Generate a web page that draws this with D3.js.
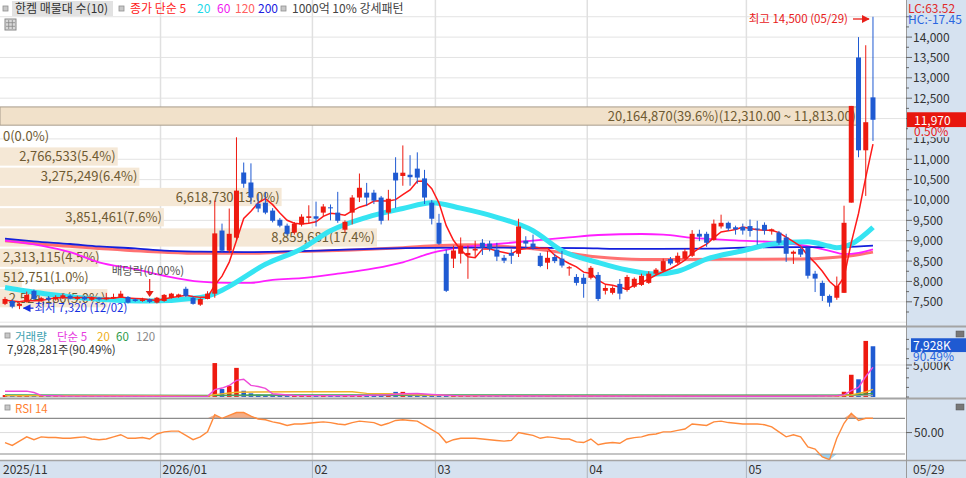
<!DOCTYPE html>
<html>

<head>
  <meta charset="utf-8">
  <title>한켐 매물대</title>
  <script src="https://cdn.jsdelivr.net/npm/d3@7/dist/d3.min.js"></script>
  <style>
    body { margin: 0; background: #fff; }
    svg text { font-family: "Noto Sans CJK KR", "Noto Sans", sans-serif; }
  </style>
</head>

<body>
  <svg width="966" height="478" id="mainsvg"></svg>
  <script>
    // ---- data ----
    const dates = ['2025/11/28',
      '2025/12/01', '2025/12/02', '2025/12/03', '2025/12/04', '2025/12/05', '2025/12/08', '2025/12/09', '2025/12/10', '2025/12/11', '2025/12/12',
      '2025/12/15', '2025/12/16', '2025/12/17', '2025/12/18', '2025/12/19', '2025/12/22', '2025/12/23', '2025/12/24', '2025/12/26', '2025/12/29', '2025/12/30',
      '2026/01/02', '2026/01/05', '2026/01/06', '2026/01/07', '2026/01/08', '2026/01/09', '2026/01/12', '2026/01/13', '2026/01/14', '2026/01/15', '2026/01/16',
      '2026/01/19', '2026/01/20', '2026/01/21', '2026/01/22', '2026/01/23', '2026/01/26', '2026/01/27', '2026/01/28', '2026/01/29', '2026/01/30',
      '2026/02/02', '2026/02/03', '2026/02/04', '2026/02/05', '2026/02/06', '2026/02/09', '2026/02/10', '2026/02/11', '2026/02/12', '2026/02/13',
      '2026/02/19', '2026/02/20', '2026/02/23', '2026/02/24', '2026/02/25', '2026/02/26', '2026/02/27',
      '2026/03/03', '2026/03/04', '2026/03/05', '2026/03/06', '2026/03/09', '2026/03/10', '2026/03/11', '2026/03/12', '2026/03/13', '2026/03/16',
      '2026/03/17', '2026/03/18', '2026/03/19', '2026/03/20', '2026/03/23', '2026/03/24', '2026/03/25', '2026/03/26', '2026/03/27', '2026/03/30', '2026/03/31',
      '2026/04/01', '2026/04/02', '2026/04/03', '2026/04/06', '2026/04/07', '2026/04/08', '2026/04/09', '2026/04/10', '2026/04/13', '2026/04/14', '2026/04/15',
      '2026/04/16', '2026/04/17', '2026/04/20', '2026/04/21', '2026/04/22', '2026/04/23', '2026/04/24', '2026/04/27', '2026/04/28', '2026/04/29', '2026/04/30',
      '2026/05/04', '2026/05/06', '2026/05/07', '2026/05/08', '2026/05/11', '2026/05/12', '2026/05/13', '2026/05/14', '2026/05/15',
      '2026/05/18', '2026/05/19', '2026/05/20', '2026/05/21', '2026/05/22', '2026/05/26', '2026/05/27', '2026/05/28', '2026/05/29'];

    const open = [7450, 7520, 7400, 7500, 7770, 7540, 7600, 7560, 7600, 7650,
      7570, 7620, 7550, 7600, 7560, 7590, 7620, 7620, 7560, 7520,
      7560, 7480, 7520, 7600, 7630, 7820, 7600, 7430, 7570, 7700,
      9250, 8755, 9075, 10675, 10430, 9910, 9935, 9740, 9515, 9370,
      9200, 9400, 9560, 9600, 9690, 9820, 9690, 9270, 9690, 10060,
      10180, 10180, 10060, 9690, 10670, 10590, 10620, 10770, 10530, 9935,
      9440, 8680, 8560, 8680, 8640, 8760, 8950, 8930, 8780, 8580,
      8700, 8680, 9000, 8930, 8630, 8460, 8600, 8560, 8320, 8110,
      8090, 8090, 8160, 7770, 7720, 7940, 7790, 7870, 7915, 7965,
      8190, 8260, 8550, 8460, 8560, 8630, 9170, 9170, 9020, 9350,
      9440, 9330, 9340, 9360, 9300, 9390, 9230, 9200, 9080, 8680,
      8800, 8830, 8190, 7965, 7645, 7600, 7720, 9935, 13500, 11220,
      12520];
    const high = [7620, 7560, 7480, 7750, 7800, 7620, 7640, 7660, 7700, 7680,
      7650, 7640, 7630, 7620, 7720, 7700, 7770, 7640, 7590, 7600,
      7580, 7620, 7690, 7720, 7700, 7870, 7640, 7590, 7760, 9985,
      9420, 9790, 11540, 10920, 10900, 10150, 10200, 9800, 9560, 9420,
      9460, 9650, 9870, 9960, 9900, 9890, 10200, 9500, 10120, 10650,
      10420, 10250, 10100, 10250, 11050, 11340, 11100, 11170, 10740, 10000,
      9660, 8780, 8880, 9080, 8880, 9000, 9040, 9000, 8950, 8650,
      8790, 9540, 9110, 9150, 8700, 8750, 8680, 8750, 8380, 8180,
      8190, 8380, 8230, 7910, 7880, 8060, 8160, 8100, 8190, 8250,
      8330, 8560, 8600, 8710, 8800, 9260, 9270, 9220, 9520, 9640,
      9470, 9370, 9420, 9520, 9490, 9450, 9300, 9240, 9170, 8760,
      8860, 8830, 8260, 8020, 7680, 8120, 9860, 12310, 14000, 13800,
      14500];
    const low = [7420, 7340, 7320, 7480, 7540, 7500, 7520, 7530, 7570, 7560,
      7540, 7540, 7520, 7530, 7540, 7570, 7600, 7460, 7500, 7500,
      7470, 7460, 7500, 7580, 7600, 7620, 7430, 7400, 7560, 7600,
      8700, 8700, 9000, 10300, 9900, 9700, 9650, 9450, 9330, 9130,
      9150, 9350, 9430, 9350, 9600, 9500, 9440, 9200, 9400, 9950,
      9850, 9900, 9400, 9500, 9800, 10350, 10350, 10400, 9900, 9400,
      8900, 7740, 8330, 8440, 8065, 8600, 8650, 8740, 8500, 8450,
      8430, 8600, 8800, 8780, 8350, 8300, 8450, 8340, 8140, 7900,
      7600, 8050, 7520, 7680, 7680, 7560, 7750, 7840, 7890, 7940,
      8150, 8230, 8400, 8430, 8530, 8600, 8990, 8850, 9000, 9300,
      9240, 9150, 9150, 9100, 8900, 9150, 9150, 8900, 8480, 8430,
      8600, 8070, 7740, 7520, 7380, 7550, 7720, 9935, 11050, 10100,
      11450];
    const close = [7570, 7380, 7450, 7670, 7570, 7590, 7550, 7620, 7660, 7580,
      7620, 7560, 7600, 7560, 7600, 7620, 7700, 7480, 7520, 7560,
      7500, 7600, 7670, 7700, 7680, 7645, 7450, 7570, 7700, 9180,
      8755, 9170, 10230, 10400, 10060, 9790, 9690, 9490, 9370, 9170,
      9420, 9590, 9600, 9540, 9840, 9800, 9490, 9465, 10060, 10300,
      10060, 9985, 9490, 10030, 10480, 10670, 10560, 10550, 10060, 9540,
      8925, 7770, 8760, 8880, 8700, 8800, 8830, 8800, 8610, 8510,
      8630, 9350, 8930, 8830, 8380, 8580, 8500, 8390, 8350, 7965,
      7940, 8335, 7570, 7840, 7840, 7700, 8110, 8065, 8140, 8190,
      8290, 8500, 8440, 8630, 8740, 9170, 9100, 8950, 9420, 9440,
      9300, 9280, 9250, 9240, 9270, 9250, 9280, 8950, 8680, 8730,
      8660, 8140, 8070, 7645, 7480, 7890, 9440, 12310, 11220, 11910,
      11970];
    const volume = [300000, 250000, 320000, 180000, 150000,
      60000, 50000, 70000, 80000, 50000, 60000, 40000, 50000, 45000, 70000,
      60000, 90000, 80000, 50000, 60000, 120000, 70000, 90000, 80000, 60000,
      110000, 100000, 80000, 250000, 5300000,
      1240000, 1750000, 4550000, 980000, 570000, 350000, 300000, 250000, 220000, 250000,
      200000, 150000, 180000, 160000, 200000, 140000, 180000, 150000, 300000, 320000,
      200000, 180000, 250000, 300000, 800000, 800000, 350000, 300000, 300000, 220000,
      250000, 300000, 180000, 150000, 160000, 120000, 110000, 100000, 120000, 90000,
      100000, 220000, 130000, 110000, 150000, 100000, 90000, 110000, 80000, 120000,
      140000, 110000, 200000, 120000, 90000, 110000, 100000, 90000, 95000, 100000,
      90000, 110000, 80000, 100000, 110000, 230000, 150000, 130000, 200000, 150000,
      120000, 100000, 90000, 100000, 110000, 90000, 80000, 120000, 180000, 100000,
      90000, 220000, 160000, 200000, 230000, 250000, 820000, 3475089, 2766533, 8761500,
      7928281];

    // moving averages of close (5 day per candle, others sampled as [index, value])
    const ma5 = [7540, 7520, 7500, 7530, 7528, 7532, 7566, 7600, 7598, 7600,
      7606, 7608, 7604, 7584, 7588, 7588, 7616, 7592, 7584, 7576,
      7552, 7532, 7570, 7606, 7630, 7659, 7629, 7609, 7609, 7909,
      8131, 8475, 9007, 9547, 9723, 9930, 10034, 9886, 9680, 9502,
      9428, 9408, 9430, 9464, 9598, 9674, 9654, 9627, 9731, 9823,
      9875, 9974, 9979, 9973, 10009, 10131, 10246, 10458, 10464, 10276,
      9927, 9369, 9011, 8775, 8607, 8582, 8794, 8802, 8748, 8710,
      8676, 8780, 8806, 8850, 8824, 8814, 8644, 8536, 8440, 8357,
      8229, 8196, 8032, 7930, 7905, 7857, 7812, 7911, 7971, 8061,
      8159, 8237, 8312, 8410, 8520, 8696, 8816, 8918, 9076, 9216,
      9242, 9278, 9338, 9302, 9268, 9258, 9258, 9198, 9086, 8978,
      8860, 8632, 8456, 8249, 7999, 7845, 8105, 8953, 9668, 10554,
      11370];
    const ma20 = [[0, 7850], [6, 7685], [13, 7565], [20, 7520], [27, 7605], [29, 7700], [31, 7880], [36, 8420],
      [41, 8800], [45, 9245], [50, 9575], [55, 9790], [59, 9935], [63, 9800], [68, 9575], [73, 9245], [77, 8755],
      [82, 8465], [86, 8280], [90, 8180], [93, 8250], [97, 8550], [102, 8755], [106, 8920], [111, 8975],
      [114, 8865], [115, 8830], [117, 8920], [120, 9330]];
    const ma60 = [[0, 9000], [5, 8880], [9, 8720], [13, 8470], [18, 8300], [22, 8140], [27, 7995], [31, 7965],
      [34, 7965], [37, 8040], [41, 8080], [46, 8190], [51, 8320], [55, 8470], [59, 8700], [63, 8835], [68, 8920],
      [73, 9000], [78, 9080], [82, 9140], [88, 9165], [91, 9150], [95, 9070], [101, 9010], [108, 8940],
      [111, 8870], [114, 8750], [116, 8670], [118, 8700], [120, 8790]];
    const ma120 = [[0, 9000], [6, 8900], [13, 8810], [22, 8715], [27, 8690], [33, 8690], [40, 8730], [48, 8770],
      [55, 8830], [60, 8880], [64, 8900], [68, 8870], [73, 8800], [78, 8690], [82, 8600], [88, 8540], [100, 8545],
      [110, 8550], [114, 8580], [117, 8630], [120, 8720]];
    const ma200 = [[0, 9050], [4, 8985], [9, 8920], [13, 8860], [18, 8810], [22, 8755], [27, 8730], [33, 8720],
      [41, 8745], [55, 8820], [63, 8830], [80, 8820], [84, 8800], [98, 8805], [104, 8840], [116, 8845], [120, 8880]];

    // volume moving averages, sampled as [index, shares]
    const vma5 = [[0, 900000], [3, 920000], [4, 700000], [5, 250000], [8, 150000], [28, 100000], [29, 1150000],
      [30, 1400000], [31, 1800000], [32, 2600000], [33, 2760000], [34, 1820000], [35, 1640000], [36, 1350000],
      [37, 500000], [40, 230000], [48, 200000], [53, 350000], [55, 500000], [57, 550000], [59, 400000],
      [61, 270000], [63, 170000], [110, 120000], [115, 200000], [116, 330000], [117, 1000000], [118, 1500000],
      [119, 3200000], [120, 4650000]];
    const vma20 = [[0, 220000], [20, 200000], [28, 120000], [29, 380000], [32, 750000], [40, 820000], [48, 820000],
      [50, 570000], [53, 500000], [57, 350000], [62, 220000], [70, 180000], [100, 130000], [115, 150000],
      [117, 330000], [119, 780000], [120, 1180000]];
    const vma60 = [[0, 320000], [28, 260000], [32, 300000], [60, 320000], [100, 300000], [115, 290000],
      [118, 380000], [120, 560000]];
    const vma120 = [[0, 200000], [120, 230000]];

    const rsi = [36, 32, 38, 44, 40, 44, 43, 43, 42, 42,
      43, 44, 41, 40, 41, 44, 47, 42, 42, 43,
      41, 48, 51, 52, 52, 46, 40, 44, 51, 75,
      70, 74, 78, 78, 73, 69, 68, 65, 63, 60,
      62, 62, 63, 64, 65, 64, 62, 61, 64, 66,
      65, 64, 60, 63, 67, 68, 67, 66, 60, 54,
      48, 36, 40, 42, 42, 42, 41, 40, 39, 38,
      39, 50, 48, 46, 42, 44, 43, 41, 41, 37,
      36, 41, 33, 35, 36, 35, 41, 43, 44, 47,
      48, 51, 51, 53, 55, 62, 61, 60, 65, 66,
      64, 63, 62, 62, 62, 61, 58, 51, 44, 47,
      44, 30, 27, 16, 12, 42, 63, 77, 67, 70,
      70];

    // volume profile (매물대), 10 price bands from bottom to top
    const profileEdges = [7340, 7837, 8334, 8831, 9328, 9825, 10322, 10819, 11316, 11813, 12310];
    const profileVolumes = [2524180, 512751, 2313115, 8859681, 3851461, 6618730, 3275249, 2766533, 0, 20164870];

    // 12,000 sits under the last-price box, so it is not written
    const priceTicks = [7500, 8000, 8500, 9000, 9500, 10000, 10500, 11000, 11500, 12500, 13000, 13500, 14000];
    const monthIdx = [0, 22, 43, 60, 81, 103];
    const monthLabels = ['2025/11', '2026/01', '02', '03', '04', '05'];

    // ---- layout ----
    const svg = d3.select('#mainsvg');
    const width = +svg.attr('width');
    const height = +svg.attr('height');
    const plotRight = 906;
    const main = { top: 0, bottom: 326 };
    const vol = { top: 328, bottom: 398 };
    const rs = { top: 400, bottom: 460 };
    const axisBg = '#d6e2f0';
    const upColor = '#ee1a10', downColor = '#1f5ad2';

    const x = d3.scaleBand().domain(dates).range([1.4, 1.4 + dates.length * 7.233]);
    const cx = i => x(dates[i]) + x.bandwidth() / 2;
    const y = d3.scaleLinear().domain([6906, 14911]).range([main.bottom, main.top]);
    const yVol = d3.scaleLinear().domain([0, 10.78e6]).range([397, 328]);
    const yRsi = d3.scaleLinear().domain([11.6, 95.6]).range([rs.bottom, rs.top]);
    const xProf = d3.scaleLinear().domain([0, d3.max(profileVolumes)]).range([0, 858]);
    const fmt = d3.format(',');

    svg.append('rect').attr('width', width).attr('height', height).attr('fill', '#fff');

    // axis bands
    svg.append('rect').attr('x', plotRight).attr('y', 0).attr('width', width - plotRight).attr('height', height).attr('fill', axisBg);
    svg.append('rect').attr('x', 0).attr('y', 461).attr('width', width).attr('height', height - 461).attr('fill', axisBg);

    // clip paths
    const defs = svg.append('defs');
    [['clipMain', main], ['clipVol', vol], ['clipRsi', rs]].forEach(([id, p]) => {
      defs.append('clipPath').attr('id', id).append('rect')
        .attr('x', 0).attr('y', p.top).attr('width', plotRight).attr('height', p.bottom - p.top);
    });

    // horizontal grid (price)
    const grid = svg.append('g');
    grid.selectAll('line.hg').data(d3.range(7000, 14501, 500)).enter().append('line')
      .attr('x1', 0).attr('x2', plotRight).attr('y1', d => y(d)).attr('y2', d => y(d))
      .attr('stroke', '#e3e3e3').attr('stroke-width', 1);
    grid.append('line').attr('x1', 0).attr('x2', plotRight).attr('y1', yVol(5e6)).attr('y2', yVol(5e6))
      .attr('stroke', '#e3e3e3');
    grid.append('line').attr('x1', 0).attr('x2', plotRight).attr('y1', yRsi(50)).attr('y2', yRsi(50))
      .attr('stroke', '#dcdcdc');

    // vertical month grid
    grid.selectAll('line.vg').data(monthIdx.slice(1)).enter().append('line')
      .attr('x1', d => x(dates[d])).attr('x2', d => x(dates[d]))
      .attr('y1', 0).attr('y2', 478)
      .attr('stroke', '#e0e0e0').attr('stroke-width', 1.5);

    // ---- volume profile ----
    const prof = svg.append('g').attr('clip-path', 'url(#clipMain)');
    const total = d3.sum(profileVolumes);
    const maxIdx = profileVolumes.indexOf(d3.max(profileVolumes));
    const bands = profileVolumes.map((v, k) => ({ v, k, lo: profileEdges[k], hi: profileEdges[k + 1] }));
    prof.selectAll('rect').data(bands).enter().append('rect')
      .attr('x', 0)
      .attr('y', d => y(d.hi) + 1)
      .attr('width', d => xProf(d.v))
      .attr('height', d => y(d.lo) - y(d.hi) - 2)
      .attr('fill', d => d.k === maxIdx ? '#f1e1ca' : '#f5e8d6')
      .attr('stroke', d => d.k === maxIdx ? '#a89c8c' : 'none');
    prof.selectAll('text').data(bands).enter().append('text')
      .attr('y', d => (y(d.lo) + y(d.hi)) / 2 + 4.5)
      .attr('font-size', 13)
      .attr('fill', '#6e5a32')
      .text(d => {
        let s = `${fmt(d.v)}(${(d.v / total * 100).toFixed(1)}%)`;
        if (d.k === maxIdx) s += `(${d3.format(',.2f')(d.hi)} ~ ${d3.format(',.2f')(d.lo)})`;
        return s;
      })
      .each(function (d) {
        const w = this.getComputedTextLength();
        const end = xProf(d.v) - 2;
        if (end - w < 3) d3.select(this).attr('x', 3);
        else d3.select(this).attr('x', end - w);
      });

    // ---- moving averages ----
    const maG = svg.append('g').attr('clip-path', 'url(#clipMain)');
    const smooth = d3.line().x(d => cx(d[0])).y(d => y(d[1])).curve(d3.curveMonotoneX);
    maG.append('path').attr('d', smooth(ma120)).attr('fill', 'none').attr('stroke', '#ff6262').attr('stroke-width', 3).attr('opacity', 0.9);
    maG.append('path').attr('d', smooth(ma60)).attr('fill', 'none').attr('stroke', '#ff1eff').attr('stroke-width', 1.8);
    maG.append('path').attr('d', smooth(ma200)).attr('fill', 'none').attr('stroke', '#1420dc').attr('stroke-width', 1.8);
    maG.append('path').attr('d', smooth(ma20)).attr('fill', 'none').attr('stroke', '#35e4f2').attr('stroke-width', 5);
    maG.append('path')
      .attr('d', d3.line().x((d, i) => cx(i)).y(d => y(d))(ma5))
      .attr('fill', 'none').attr('stroke', '#ff1a1a').attr('stroke-width', 1.5);

    // ---- candles ----
    const cg = svg.append('g').attr('clip-path', 'url(#clipMain)');
    const candles = dates.map((d, i) => ({ i, o: open[i], h: high[i], l: low[i], c: close[i] }));
    const col = d => d.c >= d.o ? upColor : downColor;
    cg.selectAll('line').data(candles).enter().append('line')
      .attr('x1', d => cx(d.i)).attr('x2', d => cx(d.i))
      .attr('y1', d => y(d.h)).attr('y2', d => y(d.l))
      .attr('stroke', col).attr('stroke-width', 1);
    cg.selectAll('rect').data(candles).enter().append('rect')
      .attr('x', d => cx(d.i) - 2.5).attr('width', 5)
      .attr('y', d => y(Math.max(d.o, d.c)))
      .attr('height', d => Math.max(1, Math.abs(y(d.o) - y(d.c))))
      .attr('fill', col);

    // ---- annotations ----
    const hiIdx = high.indexOf(d3.max(high));
    const loIdx = low.indexOf(d3.min(low));
    const ann = svg.append('g');
    defs.append('marker').attr('id', 'arrR').attr('viewBox', '0 0 10 10').attr('refX', 9).attr('refY', 5)
      .attr('markerWidth', 6).attr('markerHeight', 6).attr('orient', 'auto')
      .append('path').attr('d', 'M0,0L10,5L0,10z').attr('fill', '#e8201a');
    defs.append('marker').attr('id', 'arrB').attr('viewBox', '0 0 10 10').attr('refX', 9).attr('refY', 5)
      .attr('markerWidth', 6).attr('markerHeight', 6).attr('orient', 'auto')
      .append('path').attr('d', 'M0,0L10,5L0,10z').attr('fill', '#1530e0');
    ann.append('text').attr('x', cx(hiIdx) - 5 - 16 - 4).attr('y', 23).attr('text-anchor', 'end')
      .attr('font-size', 11.5).attr('fill', '#e8201a')
      .text(`최고 ${fmt(high[hiIdx])} (${dates[hiIdx].slice(5)})`);
    ann.append('line').attr('x1', cx(hiIdx) - 20).attr('x2', cx(hiIdx) - 4).attr('y1', 19).attr('y2', 19)
      .attr('stroke', '#e8201a').attr('stroke-width', 1.3).attr('marker-end', 'url(#arrR)');
    ann.append('line').attr('x1', cx(loIdx) + 14).attr('x2', cx(loIdx) + 4).attr('y1', y(low[loIdx]) - 1).attr('y2', y(low[loIdx]) - 1)
      .attr('stroke', '#1530e0').attr('stroke-width', 1.3).attr('marker-end', 'url(#arrB)');
    ann.append('text').attr('x', cx(loIdx) + 15).attr('y', y(low[loIdx]) + 3)
      .attr('font-size', 11.5).attr('fill', '#1530e0')
      .text(`최저 ${fmt(low[loIdx])} (${dates[loIdx].slice(5)})`);
    const divIdx = dates.indexOf('2025/12/29');
    ann.append('text').attr('x', cx(divIdx) - 38).attr('y', 275)
      .attr('font-size', 11.5).attr('fill', '#555').text('배당락(0.00%)');
    ann.append('line').attr('x1', cx(divIdx)).attr('x2', cx(divIdx)).attr('y1', 279).attr('y2', 292)
      .attr('stroke', '#e8201a').attr('stroke-width', 1.2);
    ann.append('path').attr('d', `M${cx(divIdx) - 4},${291}L${cx(divIdx) + 4},${291}L${cx(divIdx)},${297}Z`).attr('fill', '#e8201a');

    // ---- volume panel ----
    const vg = svg.append('g').attr('clip-path', 'url(#clipVol)');
    vg.selectAll('rect').data(candles).enter().append('rect')
      .attr('x', d => cx(d.i) - 2.3).attr('width', 4.6)
      .attr('y', d => Math.min(yVol(volume[d.i]), 395.5))
      .attr('height', d => Math.max(1.5, yVol(0) - yVol(volume[d.i])))
      .attr('fill', col);
    const vline = d3.line().x(d => cx(d[0])).y(d => yVol(d[1]));
    [[vma120, '#a0a0a0'], [vma60, '#35a050'], [vma20, '#f0b428'], [vma5, '#ee4ad8']].forEach(([pts, c]) => {
      vg.append('path').attr('d', vline(pts)).attr('fill', 'none').attr('stroke', c).attr('stroke-width', 1.4);
    });

    // ---- RSI panel ----
    const rg = svg.append('g').attr('clip-path', 'url(#clipRsi)');
    rg.append('path')
      .attr('d', d3.area().x((d, i) => cx(i)).y0(yRsi(70)).y1(d => yRsi(Math.max(d, 70)))(rsi))
      .attr('fill', '#f4ad86');
    rg.append('path')
      .attr('d', d3.area().x((d, i) => cx(i)).y0(yRsi(20)).y1(d => yRsi(Math.min(d, 20)))(rsi))
      .attr('fill', '#9fd4f2');
    [70, 20].forEach(v => {
      rg.append('line').attr('x1', 0).attr('x2', 905).attr('y1', yRsi(v)).attr('y2', yRsi(v))
        .attr('stroke', '#8c8c8c').attr('stroke-width', 1.2);
    });
    rg.append('path').attr('d', d3.line().x((d, i) => cx(i)).y(d => yRsi(d))(rsi))
      .attr('fill', 'none').attr('stroke', '#ff8a3c').attr('stroke-width', 1.4);

    // panel borders
    [[326.5, 2], [398.5, 2], [460.5, 1.5]].forEach(([yy, w]) => {
      svg.append('line').attr('x1', 0).attr('x2', width).attr('y1', yy).attr('y2', yy)
        .attr('stroke', '#a4a4a4').attr('stroke-width', w);
    });
    svg.append('line').attr('x1', plotRight + 0.5).attr('x2', plotRight + 0.5).attr('y1', 0).attr('y2', height)
      .attr('stroke', '#9a9a9a');

    // ---- right price axis ----
    const ax = svg.append('g');
    ax.selectAll('line.mt').data(d3.range(7250, 14501, 250)).enter().append('line')
      .attr('x1', plotRight).attr('x2', d => plotRight + (d % 500 === 0 ? 6 : 3))
      .attr('y1', d => y(d)).attr('y2', d => y(d)).attr('stroke', '#666');
    ax.selectAll('text.pt').data(priceTicks).enter().append('text')
      .attr('x', 913).attr('y', d => y(d) + 4.5).attr('font-size', 12).attr('fill', '#333')
      .text(d => fmt(d));
    ax.append('text').attr('x', 908).attr('y', 12.5).attr('font-size', 12).attr('fill', '#e02a2a').text('LC:63.52');
    ax.append('text').attr('x', 908).attr('y', 24).attr('font-size', 12).attr('fill', '#2a66e0').text('HC:-17.45');
    const last = close[close.length - 1];
    ax.append('rect').attr('x', plotRight + 1).attr('y', y(last) - 7.5).attr('width', width - plotRight).attr('height', 15)
      .attr('fill', '#e8160e');
    ax.append('text').attr('x', 914).attr('y', y(last) + 5).attr('font-size', 12).attr('fill', '#fff').text(fmt(last));
    ax.append('rect').attr('x', plotRight + 2).attr('y', y(last) + 7.5).attr('width', 58).attr('height', 10).attr('fill', axisBg);
    ax.append('text').attr('x', 914).attr('y', y(last) + 16).attr('font-size', 12).attr('fill', '#e8201a')
      .text(`${((last - close[close.length - 2]) / close[close.length - 2] * 100).toFixed(2)}%`);

    // volume axis
    ax.selectAll('line.vt').data(d3.range(0, 10e6, 1.5e6)).enter().append('line')
      .attr('x1', plotRight).attr('x2', plotRight + 3).attr('y1', d => yVol(d)).attr('y2', d => yVol(d)).attr('stroke', '#666');
    ax.append('line').attr('x1', plotRight).attr('x2', plotRight + 6).attr('y1', yVol(5e6)).attr('y2', yVol(5e6)).attr('stroke', '#666');
    ax.append('text').attr('x', 913).attr('y', yVol(5e6) + 5).attr('font-size', 12).attr('fill', '#333').text('5,000K');
    const lastVol = volume[volume.length - 1];
    ax.append('rect').attr('x', 911).attr('y', yVol(lastVol) - 8).attr('width', 55).attr('height', 14).attr('fill', '#1f5ad2');
    ax.append('text').attr('x', 913).attr('y', yVol(lastVol) + 4).attr('font-size', 12).attr('fill', '#fff')
      .text(`${fmt(Math.round(lastVol / 1000))}K`);
    const volRatio = (lastVol / volume[volume.length - 2] * 100).toFixed(2);
    ax.append('rect').attr('x', 911).attr('y', yVol(lastVol) + 6).attr('width', 55).attr('height', 10).attr('fill', axisBg);
    ax.append('text').attr('x', 913).attr('y', yVol(lastVol) + 15).attr('font-size', 12).attr('fill', '#2a66e0').text(`${volRatio}%`);

    // RSI axis
    ax.append('line').attr('x1', plotRight).attr('x2', plotRight + 6).attr('y1', yRsi(50)).attr('y2', yRsi(50)).attr('stroke', '#666');
    ax.append('text').attr('x', 914).attr('y', yRsi(50) + 4.5).attr('font-size', 12).attr('fill', '#333').text('50.00');

    // small panel icons
    [331, 404].forEach(yy => {
      ax.append('rect').attr('x', 956).attr('y', yy).attr('width', 8).attr('height', 6)
        .attr('fill', '#777').attr('stroke', '#555').attr('stroke-width', 0.5);
    });

    // ---- bottom date axis ----
    const bx = svg.append('g');
    bx.selectAll('line').data(monthIdx.slice(1)).enter().append('line')
      .attr('x1', d => x(dates[d])).attr('x2', d => x(dates[d])).attr('y1', 461).attr('y2', 478)
      .attr('stroke', '#a8b4c4');
    bx.selectAll('text').data(monthIdx).enter().append('text')
      .attr('x', (d, k) => k === 0 ? 3 : x(dates[d]) + 2).attr('y', 474)
      .attr('font-size', 12).attr('fill', '#333')
      .text((d, k) => monthLabels[k]);
    bx.append('text').attr('x', 913).attr('y', 474).attr('font-size', 12).attr('fill', '#333')
      .text(dates[dates.length - 1].slice(5));

    // ---- legends ----
    const lg = svg.append('g').attr('font-size', 12);
    const marker = (g, xx, yy) => g.append('rect').attr('x', xx).attr('y', yy).attr('width', 5).attr('height', 5)
      .attr('fill', '#c8c8c8').attr('stroke', '#909090').attr('stroke-width', 0.8);
    marker(lg, 3, 6);
    lg.append('rect').attr('x', 12).attr('y', 1).attr('width', 101).attr('height', 15).attr('fill', '#e2e2e2');
    lg.append('text').attr('x', 15).attr('y', 13).attr('fill', '#333').text('한켐 매물대 수(10)');
    marker(lg, 119, 6);
    const maLegend = [['종가 단순 5', '#ff2020', 130], ['20', '#1ed8e8', 197], ['60', '#f018f0', 217], ['120', '#ff6060', 235], ['200', '#2020e0', 258]];
    maLegend.forEach(([t, c, xx]) => lg.append('text').attr('x', xx).attr('y', 13).attr('fill', c).text(t));
    marker(lg, 281, 6);
    lg.append('text').attr('x', 292).attr('y', 13).attr('fill', '#444').text('1000억 10% 강세패턴');

    // grid icon
    const gi = svg.append('g').attr('transform', 'translate(5,19)');
    gi.append('rect').attr('width', 11).attr('height', 11).attr('fill', '#d8d8d8').attr('stroke', '#888');
    [3.7, 7.3].forEach(p => {
      gi.append('line').attr('x1', p).attr('x2', p).attr('y1', 1).attr('y2', 10).attr('stroke', '#888').attr('stroke-width', 0.8);
      gi.append('line').attr('y1', p).attr('y2', p).attr('x1', 1).attr('x2', 10).attr('stroke', '#888').attr('stroke-width', 0.8);
    });

    // volume legend
    marker(lg, 5, 333);
    const volLegend = [['거래량', '#3c9fb0', 15], ['단순 5', '#e63ce0', 57], ['20', '#f0b020', 97], ['60', '#2e9a48', 116], ['120', '#888', 136]];
    volLegend.forEach(([t, c, xx]) => lg.append('text').attr('x', xx).attr('y', 341).attr('font-size', 11.5).attr('fill', c).text(t));
    lg.append('text').attr('x', 7).attr('y', 354).attr('font-size', 11.5).attr('fill', '#333')
      .text(`${fmt(lastVol)}주(${volRatio}%)`);

    // RSI legend
    marker(lg, 5, 405);
    lg.append('text').attr('x', 15).attr('y', 413).attr('font-size', 11.5).attr('fill', '#ff8030').text('RSI 14');
  </script>
</body>

</html>
